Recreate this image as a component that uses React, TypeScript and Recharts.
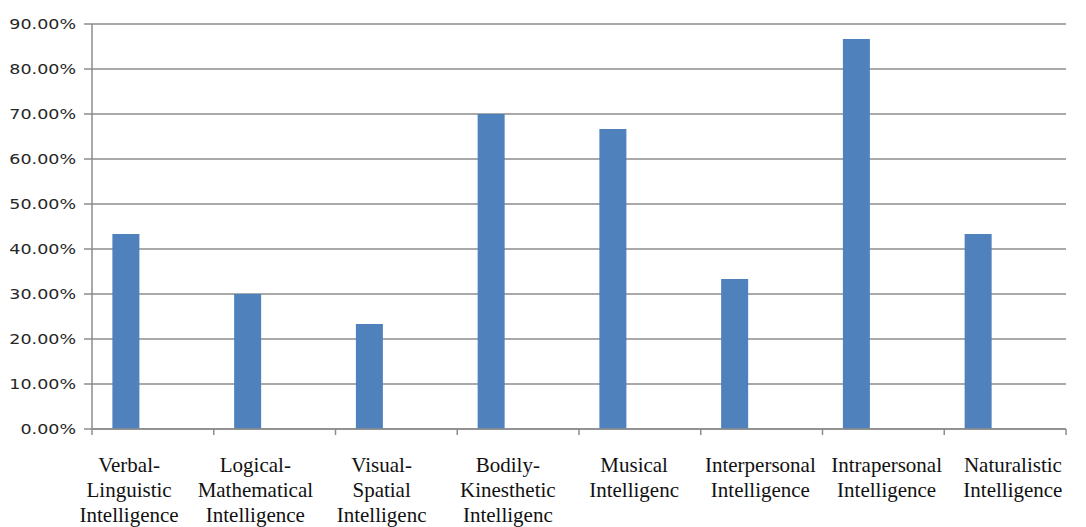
import React from 'react';
import { BarChart, Bar, XAxis, YAxis, CartesianGrid } from 'recharts';

// Share of respondents per intelligence type (percent)
const categories: string[] = [
  'Verbal-\nLinguistic\nIntelligence',
  'Logical-\nMathematical\nIntelligence',
  'Visual-\nSpatial\nIntelligenc',
  'Bodily-\nKinesthetic\nIntelligenc',
  'Musical\nIntelligenc',
  'Interpersonal\nIntelligence',
  'Intrapersonal\nIntelligence',
  'Naturalistic\nIntelligence',
];
const percentages: number[] = [43.33, 30.0, 23.33, 70.0, 66.67, 33.33, 86.67, 43.33];
const yTicks: number[] = [0, 10, 20, 30, 40, 50, 60, 70, 80, 90];

const data = categories.map((name, i) => ({ name, value: percentages[i] }));

const WIDTH = 1086;
const HEIGHT = 527;
const MARGIN = { top: 24, right: 20, bottom: 0, left: 0 };
const Y_AXIS_W = 92;
const X_AXIS_H = 98;
const PLOT_LEFT = MARGIN.left + Y_AXIS_W;
const PLOT_W = WIDTH - MARGIN.left - MARGIN.right - Y_AXIS_W;
const PLOT_MID = PLOT_LEFT + PLOT_W / 2;
const BAND = PLOT_W / categories.length;
const X_TICK = 6;

// category labels are fanned out a little from the plot centre and nudged left
const LABEL_SPREAD = 1.037;
const LABEL_SHIFT = -8;

const AXIS_GRAY = '#8c8c8c';
const BAR_BLUE = '#4f81bd';

const fmt = (v: number) => `${v.toFixed(2)}%`;

const YTick = (props: any) => {
  const { x, y, payload } = props;
  return (
    <g transform={`translate(${x},${y})`}>
      <text
        transform="scale(1.25,1)"
        textAnchor="end"
        dy="0.36em"
        fontFamily="DejaVu Sans"
        fontSize={14}
        fill="#262626"
      >
        {fmt(payload.value)}
      </text>
    </g>
  );
};

const XTick = (props: any) => {
  const { x, y, payload, index } = props;
  const lines: string[] = String(payload.value).split('\n');
  const axisY = y - X_TICK;
  const half = BAND / 2;
  const lx = PLOT_MID + (x - PLOT_MID) * LABEL_SPREAD + LABEL_SHIFT;
  return (
    <g>
      <line x1={x - half} x2={x - half} y1={axisY} y2={axisY + X_TICK} stroke={AXIS_GRAY} strokeWidth={1.5} />
      {index === categories.length - 1 && (
        <line x1={x + half} x2={x + half} y1={axisY} y2={axisY + X_TICK} stroke={AXIS_GRAY} strokeWidth={1.5} />
      )}
      <text textAnchor="middle" fontFamily="Liberation Serif" fontSize={21} fill="#111">
        {lines.map((l, i) => (
          <tspan key={i} x={lx} y={axisY + 43 + i * 25}>
            {l}
          </tspan>
        ))}
      </text>
    </g>
  );
};

export default function App() {
  return (
    <div style={{ position: 'absolute', left: 0, top: 0, background: '#fff' }}>
      <BarChart
        width={WIDTH}
        height={HEIGHT}
        data={data}
        margin={MARGIN}
        barCategoryGap="16.75%"
        barGap={0}
      >
        <CartesianGrid vertical={false} stroke={AXIS_GRAY} strokeWidth={1.5} />
        <XAxis
          dataKey="name"
          height={X_AXIS_H}
          interval={0}
          tickLine={false}
          tickSize={X_TICK}
          tickMargin={0}
          axisLine={{ stroke: AXIS_GRAY, strokeWidth: 1.5 }}
          tick={<XTick />}
        />
        <YAxis
          width={Y_AXIS_W}
          domain={[0, 90]}
          ticks={yTicks}
          interval={0}
          tickSize={8}
          tickMargin={8}
          tickLine={{ stroke: AXIS_GRAY, strokeWidth: 1.5 }}
          axisLine={{ stroke: AXIS_GRAY, strokeWidth: 1.5 }}
          tick={<YTick />}
        />
        <Bar dataKey="value" fill={BAR_BLUE} isAnimationActive={false} />
        <Bar dataKey="series2" fill={BAR_BLUE} isAnimationActive={false} />
        <Bar dataKey="series3" fill={BAR_BLUE} isAnimationActive={false} />
      </BarChart>
    </div>
  );
}
